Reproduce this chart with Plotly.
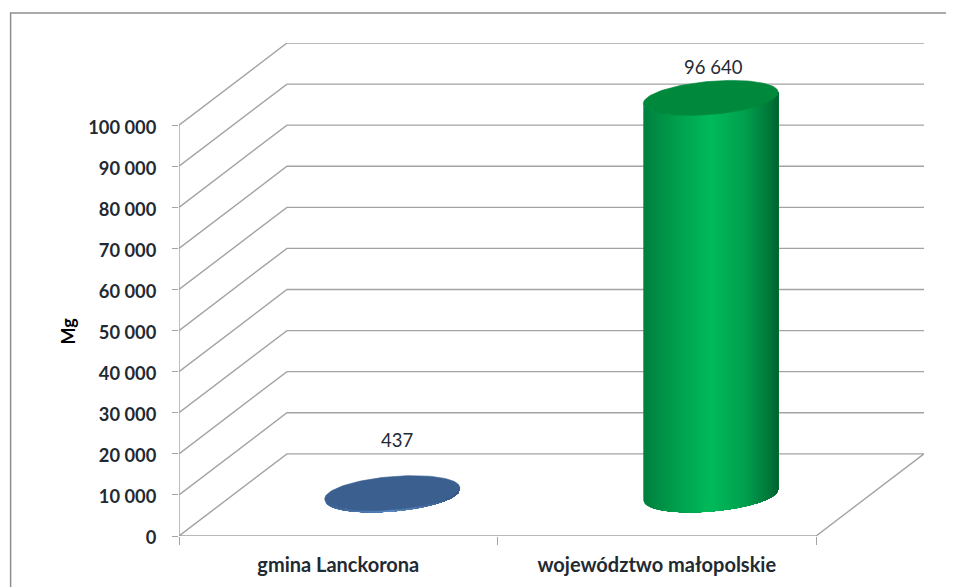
import numpy as np
import plotly.graph_objects as go

# Data
categories = ["gmina Lanckorona", "województwo małopolskie"]
values = [437, 96640]
value_labels = ["437", "96 640"]
y_ticks = [0, 10000, 20000, 30000, 40000, 50000, 60000, 70000, 80000, 90000, 100000]
y_ticklabels = ["0", "10 000", "20 000", "30 000", "40 000", "50 000", "60 000", "70 000", "80 000", "90 000", "100 000"]
y_title = "Mg"

# Layout / style constants (pixels of the 954x587 page)
W, H = 954, 587
PAGE_X, PAGE_Y = 8, 8      # default page margin of the written html
L, R, T, B = 178.5, 924.0, 43.0, 536.0
FRONT_W = 637.5
X_PER_PX = 2 / FRONT_W
Y_PER_PX = 120000 / (B - T)
DEPTH_X = (R - L) * X_PER_PX - 2      # oblique depth, axis units
DEPTH_Y = 20000
GRID = "#a3a3a3"
A = 67.5 * X_PER_PX
BY = 16.6 * Y_PER_PX
KY = 5.5 * Y_PER_PX
TEXT = "#1f2a33"
FONT = "Lato"
LABEL_DX = [5, 3]    # px offset of value labels from the cylinder axis
LABEL_DY = [53, 31]


def lerp_color(stops, t):
    xs = [s[0] for s in stops]
    r = np.interp(t, xs, [s[1][0] for s in stops])
    g = np.interp(t, xs, [s[1][1] for s in stops])
    b = np.interp(t, xs, [s[1][2] for s in stops])
    return f"rgb({r:.0f},{g:.0f},{b:.0f})"


GREEN = dict(
    stops=[(0, (0, 128, 62)), (0.25, (0, 160, 78)), (0.5, (0, 186, 90)), (0.75, (0, 160, 78)), (0.93, (0, 120, 58)), (1, (0, 98, 48))],
    cap="#00883d",
)
BLUE = dict(
    stops=[(0, (60, 100, 150)), (0.5, (90, 135, 190)), (1, (50, 85, 130))],
    cap="#3b608f",
)
STYLES = [BLUE, GREEN]

fig = go.Figure()


def line(xs, ys, width=1.4):
    fig.add_trace(go.Scatter(x=xs, y=ys, mode="lines", cliponaxis=False, hoverinfo="skip",
                             showlegend=False, line=dict(color=GRID, width=width)))


# Walls: one line per tick, front edge -> back edge -> back right
for v in y_ticks[1:]:
    line([0, DEPTH_X, 2 + DEPTH_X], [v, v + DEPTH_Y, v + DEPTH_Y])
# Floor
line([0, 2, 2 + DEPTH_X, DEPTH_X, 0], [0, 0, DEPTH_Y, DEPTH_Y, 0])
# Front vertical axis
line([0, 0], [0, y_ticks[-1]])

# Cylinders: painted left to right, each band reaching the right edge so no seams show
N = 90
for i, (val, style) in enumerate(zip(values, STYLES)):
    cx = i + 0.5 + DEPTH_X / 2
    cy = DEPTH_Y / 2
    edges = np.linspace(-1, 1, N + 1)

    def lower(u):
        return -BY * np.sqrt(np.clip(1 - u ** 2, 0, 1)) + KY * u

    for j in range(N):
        col = lerp_color(style["stops"], (j + 0.5) / N)
        us = edges[j:]
        xs = list(cx + A * us) + list(cx + A * us[::-1])
        ys = list(cy + lower(us)) + list(cy + val + lower(us[::-1]))
        fig.add_trace(go.Scatter(x=xs, y=ys, mode="lines", fill="toself", fillcolor=col,
                                 line=dict(width=0), cliponaxis=False,
                                 hoverinfo="skip", showlegend=False))
    ts = np.linspace(0, 2 * np.pi, 121)
    fig.add_trace(go.Scatter(x=cx + A * np.cos(ts), y=cy + val + BY * np.sin(ts) + KY * np.cos(ts),
                             mode="lines", fill="toself", fillcolor=style["cap"],
                             line=dict(color=style["cap"], width=0.6), cliponaxis=False,
                             hoverinfo="skip", showlegend=False))
    fig.add_annotation(x=cx + LABEL_DX[i] * X_PER_PX, y=cy + val + LABEL_DY[i] * Y_PER_PX,
                       text=value_labels[i], showarrow=False,
                       font=dict(family=FONT, size=18.5, color=TEXT),
                       xref="x", yref="y", yanchor="middle")

# Y title
fig.add_annotation(x=(67 - L) / (R - L), xref="paper", xanchor="center", y=(B - 331) * Y_PER_PX, yref="y",
                   yanchor="middle", text=f"<b>{y_title}</b>", textangle=-90, showarrow=False,
                   font=dict(family=FONT, size=18, color="#000000"))

# Outer chart frame, running off the page at right and bottom
fx0 = (10 - L) / (R - L)
fx1 = (W + 5 - L) / (R - L)
fy1 = (B - 13) / (B - T)
fy0 = (B - H - 5) / (B - T)
fig.add_shape(type="path", xref="paper", yref="paper",
              path=f"M {fx1} {fy1} L {fx0} {fy1} L {fx0} {fy0}",
              line=dict(color="#8e8e8e", width=1.5), layer="below")

fig.update_layout(
    width=W, height=H, autosize=False,
    margin=dict(l=L - PAGE_X, r=W - (R - PAGE_X), t=T - PAGE_Y, b=H - (B - PAGE_Y), pad=0),
    paper_bgcolor="white", plot_bgcolor="white", showlegend=False,
    xaxis=dict(range=[0, 2 + DEPTH_X], showgrid=False, zeroline=False, showline=False,
               tickmode="array", tickvals=[0.5, 1.5], ticktext=categories, ticks="",
               tickfont=dict(family=FONT, size=20, color=TEXT, weight="bold"),
               ticklabelstandoff=15,
               minor=dict(tickmode="array", tickvals=[0, 1, 2], ticks="outside", ticklen=8,
                          tickwidth=1.4, tickcolor=GRID)),
    yaxis=dict(range=[0, 120000], showgrid=False, zeroline=False, showline=False,
               tickmode="array", tickvals=y_ticks, ticktext=y_ticklabels, ticks="outside",
               ticklen=6, tickwidth=1.4, tickcolor=GRID, ticklabelstandoff=12, ticklabelshift=2,
               tickfont=dict(family=FONT, size=18.3, color=TEXT, weight="bold")),
)
fig.write_html("out.html", config=dict(displayModeBar=False))
